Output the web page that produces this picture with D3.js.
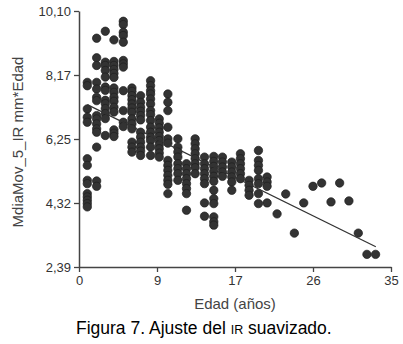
<!DOCTYPE html>
<html>
<head>
<meta charset="utf-8">
<script src="https://cdn.jsdelivr.net/npm/d3@7"></script>
<style>
  body { margin: 0; background: #fff; }
  svg { display: block; font-family: "Liberation Sans", Arial, sans-serif; }
</style>
</head>
<body>
<div id="chart"></div>
<script>
// ages (x) of each column of points
const ages = [0.93, 1.98, 2.95, 3.92, 4.97, 5.94, 6.91, 8.03, 9.0, 9.97, 11.09,
  12.06, 13.03, 14.08, 15.12, 16.09, 17.14, 18.11, 19.08, 20.13, 21.1, 22.22,
  23.19, 24.16, 25.21, 26.25, 27.22, 28.27, 29.24, 30.28, 31.33, 32.3, 33.27];

// smoothed IR values found at each age
const irValues = [
  [7.95, 7.85, 7.15, 6.9, 6.75, 5.65, 5.45, 5.0, 4.9, 4.6, 4.5, 4.4, 4.3, 4.2],
  [9.28, 8.69, 8.46, 7.95, 7.75, 7.5, 7.4, 6.95, 6.85, 6.7, 6.55, 6.45, 6.0, 4.98, 4.82],
  [9.49, 8.56, 8.46, 8.31, 8.11, 7.81, 7.71, 7.41, 7.31, 7.16, 7.01, 6.86, 6.35],
  [9.23, 8.58, 8.46, 8.34, 8.22, 8.1, 7.78, 7.65, 7.5, 7.38, 7.2, 7.06, 6.52, 6.42, 6.32],
  [9.79, 9.69, 9.46, 9.36, 9.16, 8.61, 8.51, 8.41, 7.7, 7.1, 6.75, 6.62],
  [7.78, 7.68, 7.55, 7.43, 7.3, 7.18, 7.05, 6.85, 6.7, 6.55, 6.15, 6.0, 5.85],
  [7.55, 7.35, 7.2, 7.08, 6.95, 6.82, 6.45, 6.3, 6.15, 6.0, 5.88, 5.75],
  [8.0, 7.85, 7.7, 7.6, 7.45, 7.3, 7.1, 6.98, 6.8, 6.6, 6.45, 6.3, 6.2, 6.0, 5.75],
  [6.85, 6.72, 6.58, 6.45, 6.32, 6.2, 6.07, 5.95, 5.82, 5.7],
  [7.6, 7.35, 7.1, 6.6, 6.25, 6.12, 5.6, 5.45, 5.3, 5.15, 5.0, 4.88, 4.6],
  [6.25, 6.0, 5.85, 5.7, 5.5, 5.35, 5.2, 5.0],
  [5.5, 5.35, 5.2, 5.05, 4.9, 4.75, 4.6, 4.1],
  [6.25, 6.1, 5.95, 5.8, 5.65, 5.5, 5.38, 5.2],
  [5.7, 5.5, 5.35, 5.2, 5.05, 4.9, 4.32, 3.92],
  [5.72, 5.57, 5.42, 5.27, 5.12, 4.97, 4.7, 4.45, 4.3, 3.9, 3.75, 3.65],
  [5.7, 5.55, 5.4, 5.25, 5.12],
  [5.55, 5.4, 5.25, 5.1, 4.95, 4.7],
  [5.8, 5.65, 5.5, 5.35, 5.2, 5.05],
  [5.0, 4.85, 4.7, 4.55],
  [5.9, 5.6, 5.45, 5.3, 5.05, 4.9, 4.6, 4.3],
  [5.1, 4.95, 4.82, 4.32],
  [3.99], [4.59], [3.41], [4.32], [4.82], [4.92], [4.35], [4.92], [4.38],
  [3.41], [2.77], [2.77]
];

// fitted line end points
const fitX = [0.93, 33.3];
const fitY = [7.28, 3.0];

const xTicks = [0, 8.75, 17.5, 26.25, 35];
const xTickLabels = ["0", "9", "17", "26", "35"];
const yTicks = [2.39, 4.3175, 6.245, 8.1725, 10.10];
const yTickLabels = ["2,39", "4,32", "6,25", "8,17", "10,10"];

const W = 403, H = 344;
const margin = { top: 11, right: 12, bottom: 77, left: 79 };
const width = W - margin.left - margin.right,
  height = H - margin.top - margin.bottom;

const svg = d3.select("#chart").append("svg")
  .attr("width", W)
  .attr("height", H);

const g = svg.append("g")
  .attr("transform", `translate(${margin.left},${margin.top})`);

const x = d3.scaleLinear().domain([0, 35]).range([0, width]);
const y = d3.scaleLinear().domain([2.39, 10.10]).range([height, 0]);

const points = [];
ages.forEach((a, i) => irValues[i].forEach(v => points.push({ age: a, ir: v })));

// Axes
const xAxis = g.append("g")
  .attr("transform", `translate(0,${height})`)
  .call(d3.axisBottom(x)
    .tickValues(xTicks)
    .tickFormat((d, i) => xTickLabels[i])
    .tickSize(5)
    .tickSizeOuter(0)
    .tickPadding(4));

const yAxis = g.append("g")
  .call(d3.axisLeft(y)
    .tickValues(yTicks)
    .tickFormat((d, i) => yTickLabels[i])
    .tickSize(5)
    .tickSizeOuter(0)
    .tickPadding(3));

[xAxis, yAxis].forEach(ax => {
  ax.select(".domain").attr("stroke", "#444").attr("stroke-width", 1.5);
  ax.selectAll(".tick line").attr("stroke", "#444").attr("stroke-width", 1.3);
  ax.selectAll(".tick text")
    .attr("fill", "#333")
    .style("font-size", "13px")
    .style("font-family", "'Liberation Sans', Arial, sans-serif");
});

// Points
g.append("g")
  .selectAll("circle")
  .data(points)
  .join("circle")
  .attr("cx", d => x(d.age))
  .attr("cy", d => y(d.ir))
  .attr("r", 4.2)
  .attr("fill", "#333")
  .attr("stroke", "#1e1e1e")
  .attr("stroke-width", 0.7);

// Fitted line
g.append("path")
  .datum(fitX.map((v, i) => [v, fitY[i]]))
  .attr("fill", "none")
  .attr("stroke", "#333")
  .attr("stroke-width", 1.2)
  .attr("d", d3.line().x(d => x(d[0])).y(d => y(d[1])));

// Labels
g.append("text")
  .attr("x", width / 2)
  .attr("y", height + 42)
  .attr("text-anchor", "middle")
  .attr("fill", "#444")
  .style("font-size", "15px")
  .text("Edad (años)");

svg.append("text")
  .attr("transform", "rotate(-90)")
  .attr("x", -(margin.top + height / 2 + 3))
  .attr("y", 23)
  .attr("text-anchor", "middle")
  .attr("fill", "#444")
  .style("font-size", "15px")
  .text("MdiaMov_5_IR mm*Edad");

const caption = svg.append("text")
  .attr("x", 76)
  .attr("y", 334)
  .attr("fill", "#000")
  .style("font-size", "17.5px");
caption.append("tspan").text("Figura 7. Ajuste del ");
caption.append("tspan").style("font-size", "12.5px").text("IR");
caption.append("tspan").text(" suavizado.");
</script>
</body>
</html>
